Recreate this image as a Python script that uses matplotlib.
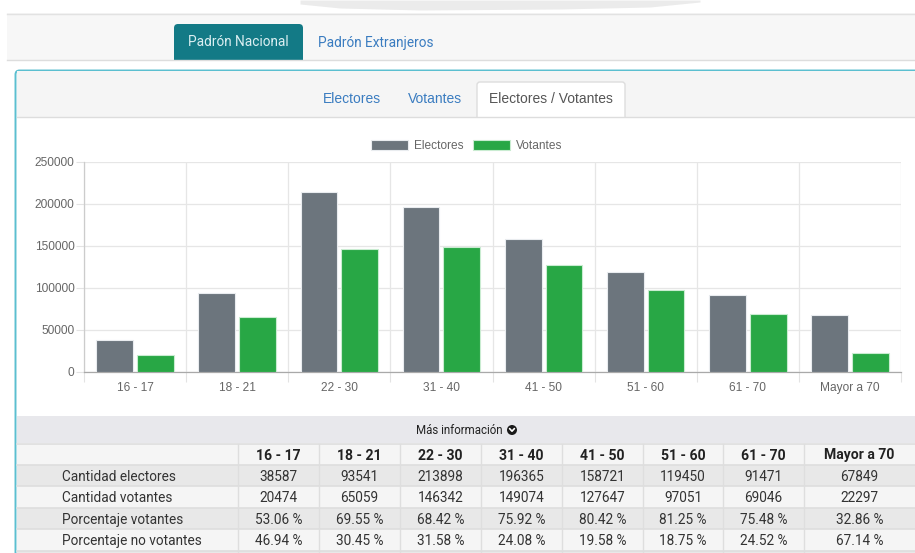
import numpy as np
import matplotlib
matplotlib.use("Agg")
import matplotlib.pyplot as plt
from matplotlib.patches import Rectangle, FancyBboxPatch, Circle
from matplotlib import ticker

# ---------------- data ----------------
categories = ["16 - 17", "18 - 21", "22 - 30", "31 - 40", "41 - 50", "51 - 60", "61 - 70", "Mayor a 70"]
electores = [38587, 93541, 213898, 196365, 158721, 119450, 91471, 67849]
votantes = [20474, 65059, 146342, 149074, 127647, 97051, 69046, 22297]
pct_votantes = ["53.06 %", "69.55 %", "68.42 %", "75.92 %", "80.42 %", "81.25 %", "75.48 %", "32.86 %"]
pct_no_votantes = ["46.94 %", "30.45 %", "31.58 %", "24.08 %", "19.58 %", "18.75 %", "24.52 %", "67.14 %"]
row_labels = ["Cantidad electores", "Cantidad votantes", "Porcentaje votantes", "Porcentaje no votantes"]
y_ticks = [0, 50000, 100000, 150000, 200000, 250000]

W, H = 915, 553
GRAY = "#6c757d"
GREEN = "#28a745"
TEAL = "#137a86"
PANEL_BORDER = "#5bbfd0"
LINK = "#3a7cc0"
UI_FONT = ["Roboto", "DejaVu Sans"]
CHART_FONT = ["Liberation Sans", "DejaVu Sans"]
UI_SIZE = 9.8

fig = plt.figure(figsize=(W / 100, H / 100), dpi=100)
fig.patch.set_facecolor("white")

bg = fig.add_axes([0, 0, 1, 1], zorder=0)
bg.set_xlim(0, W)
bg.set_ylim(H, 0)
bg.axis("off")

# faint watermark at very top
bg.fill_between([300, 340, 420, 560, 650, 700], [0, 0, 0, 0, 0, 0], [4, 8, 10, 9, 7, 2],
                color="#e6e6e6", lw=0, alpha=0.8)

# top nav area
bg.add_patch(Rectangle((7, 13), W - 7, 47, facecolor="#f7f7f7", edgecolor="none"))
bg.plot([7, W], [13.5, 13.5], color="#e2e2e2", lw=1)
bg.add_patch(FancyBboxPatch((174, 24), 129, 36, boxstyle="round,pad=0,rounding_size=4",
                            facecolor=TEAL, edgecolor="none"))
bg.add_patch(Rectangle((174, 50), 129, 10, facecolor=TEAL, edgecolor="none"))
bg.plot([7, W], [60, 60], color="#dddddd", lw=1)
bg.text(238.5, 42.5, "Padrón Nacional", color="#dcefF2", fontsize=UI_SIZE, ha="center", va="center",
        family=UI_FONT)
bg.text(318, 42.5, "Padrón Extranjeros", color=LINK, fontsize=UI_SIZE, ha="left", va="center",
        family=UI_FONT)

# panel
bg.add_patch(FancyBboxPatch((15.5, 70.5), 940, 520, boxstyle="round,pad=0,rounding_size=4",
                            facecolor="white", edgecolor=PANEL_BORDER, lw=1.4))
bg.add_patch(Rectangle((16.5, 71.3), W, 45.7, facecolor="#f5f5f5", edgecolor="none"))
bg.plot([16.5, W], [117, 117], color="#dddddd", lw=1)
bg.add_patch(FancyBboxPatch((477, 82), 148, 40, boxstyle="round,pad=0,rounding_size=3",
                            facecolor="white", edgecolor="#dddddd", lw=1))
bg.add_patch(Rectangle((476, 117.5), 150, 8, facecolor="white", edgecolor="none"))
bg.text(352, 99, "Electores", color=LINK, fontsize=10, ha="center", va="center", family=CHART_FONT)
bg.text(435, 99, "Votantes", color=LINK, fontsize=10, ha="center", va="center", family=CHART_FONT)
bg.text(551, 99, "Electores / Votantes", color="#555555", fontsize=10, ha="center", va="center",
        family=CHART_FONT)

# ---------------- chart ----------------
left, right, top, bottom = 84, 901, 162, 372
ax = fig.add_axes([left / W, 1 - bottom / H, (right - left) / W, (bottom - top) / H], zorder=2)
ax.patch.set_alpha(0)
n = len(categories)
x = np.arange(n) + 0.5
b1 = ax.bar(x - 0.2, electores, 0.36, color=GRAY, edgecolor="#e9ecef", lw=0.8, label="Electores", zorder=3)
b2 = ax.bar(x + 0.2, votantes, 0.36, color=GREEN, edgecolor="#c9ecd1", lw=0.8, label="Votantes", zorder=3)
ax.set_xlim(0, n)
ax.set_ylim(0, 250000)
ax.set_axisbelow(True)

ax.set_yticks(y_ticks)
ax.yaxis.set_major_formatter(ticker.FormatStrFormatter("%d"))
ax.set_xticks(np.arange(0, n + 1))
ax.set_xticklabels([])
ax.set_xticks(x, minor=True)
ax.set_xticklabels(categories, minor=True)
ax.tick_params(axis="x", which="major", length=7.2, width=0.8, color="#e3e3e3")
ax.tick_params(axis="x", which="minor", length=0, pad=7.5, labelsize=8.6, labelcolor="#666666")
ax.tick_params(axis="y", which="major", length=5.8, width=0.8, color="#e3e3e3", pad=1,
               labelsize=8.6, labelcolor="#666666")
for lab in ax.get_xticklabels(minor=True) + ax.get_yticklabels():
    lab.set_family(CHART_FONT)
ax.grid(True, which="major", color="#e6e6e6", lw=0.9)
for s in ["top", "right"]:
    ax.spines[s].set_visible(False)
ax.spines["left"].set_color("#cccccc")
ax.spines["left"].set_linewidth(0.9)
ax.spines["bottom"].set_color("#a9a9a9")
ax.spines["bottom"].set_linewidth(0.9)

leg = fig.legend(handles=[b1, b2], loc="center", bbox_to_anchor=(467 / W, 1 - 146 / H),
                 ncol=2, frameon=False, handlelength=3.1, handleheight=0.85,
                 handletextpad=0.5, columnspacing=0.8, borderpad=0,
                 prop={"family": CHART_FONT, "size": 8.6})
for t in leg.get_texts():
    t.set_color("#666666")

# ---------------- table ----------------
col_edges = [16, 238, 319, 400, 481, 562, 643, 723, 804, W]
bg.add_patch(Rectangle((16.5, 416), W, 27, facecolor="#e8e8ec", edgecolor="none"))
bg.text(459, 430.5, "Más información", color="#222222", fontsize=8.3, ha="center", va="center",
        family=UI_FONT)
bg.add_patch(Circle((512, 430), 5, facecolor="#1a1a1a", edgecolor="none"))
bg.plot([509.6, 512, 514.4], [428.6, 431.2, 428.6], color="white", lw=1.2, solid_capstyle="round")

row_bounds = [(443.5, 464.5), (464.5, 486), (486, 507.5), (507.5, 529), (529, 550.5), (550.5, 560)]
row_colors = ["#f5f5f5", "#e8e8e8", "#f5f5f5", "#e8e8e8", "#f5f5f5", "#e8e8e8"]
for (y0, y1), c in zip(row_bounds, row_colors):
    bg.add_patch(Rectangle((16.5, y0), W, y1 - y0, facecolor=c, edgecolor="none"))
    bg.plot([16.5, W], [y0, y0], color="#dedede", lw=1.2)
for xe in col_edges[1:-1]:
    bg.plot([xe, xe], [443.5, 560], color="#dedede", lw=1)

centers = [(col_edges[i + 1] + col_edges[i + 2]) / 2 for i in range(n)]
yc = [(a + b) / 2 + 1.5 for a, b in row_bounds]
for cx, cat in zip(centers, categories):
    bg.text(cx, yc[0], cat, color="#222222", fontsize=10.1, fontweight="bold", ha="center",
            va="center", family=UI_FONT)
rows = [[str(v) for v in electores], [str(v) for v in votantes], pct_votantes, pct_no_votantes]
for r, (lab, vals) in enumerate(zip(row_labels, rows)):
    bg.text(62, yc[r + 1], lab, color="#333333", fontsize=UI_SIZE, ha="left", va="center", family=UI_FONT)
    for cx, v in zip(centers, vals):
        bg.text(cx, yc[r + 1], v, color="#333333", fontsize=UI_SIZE, ha="center", va="center",
                family=UI_FONT)

fig.savefig("out.png", dpi=100)
